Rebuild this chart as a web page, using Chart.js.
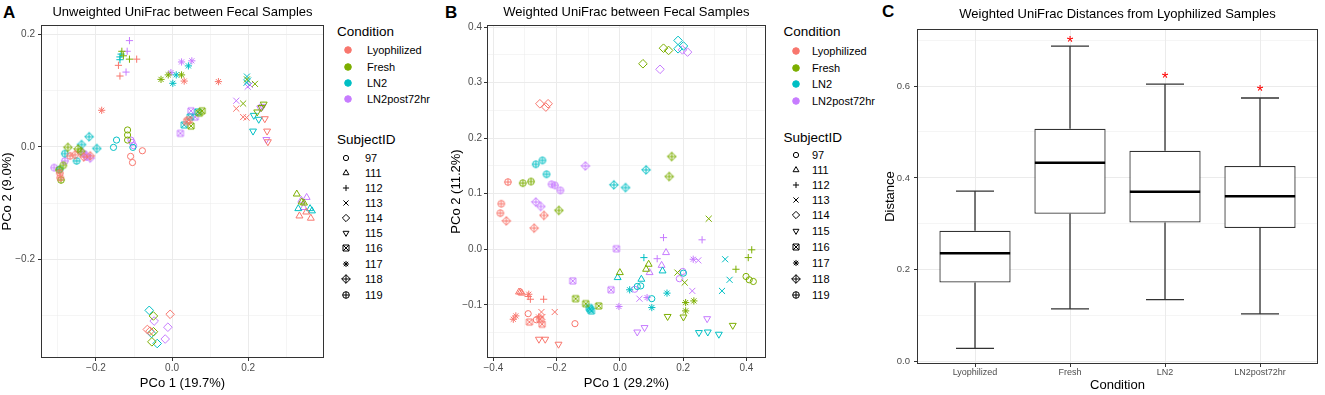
<!DOCTYPE html>
<html>
<head>
<meta charset="utf-8">
<script src="https://cdn.jsdelivr.net/npm/chart.js@4.4.0/dist/chart.umd.min.js"></script>
<style>
  body { margin: 0; width: 1325px; height: 395px; background: #fff; position: relative; overflow: hidden;
         font-family: "Liberation Sans", Arial, Helvetica, sans-serif; color: #000; }
  canvas { position: absolute; top: 0; }
  .tag { position: absolute; font-weight: bold; font-size: 17px; line-height: 17px; }
  .legTitle { position: absolute; font-size: 13.5px; line-height: 16px; white-space: nowrap; }
  .legItem { position: absolute; font-size: 11px; line-height: 14px; white-space: nowrap; }
  .legMark { position: absolute; }
</style>
</head>
<body>
<div class="tag" style="left:3px;top:4px">A</div>
<div class="tag" style="left:445px;top:4px">B</div>
<div class="tag" style="left:882px;top:3px">C</div>
<canvas id="chartA" width="330" height="395" style="left:0px"></canvas>
<canvas id="chartB" width="322" height="395" style="left:448px"></canvas>
<canvas id="chartC" width="445" height="395" style="left:880px"></canvas>
<script>
// conditions / subjects
const conditions = ['Lyophilized', 'Fresh', 'LN2', 'LN2post72hr'];
const conditionColors = ['#F8766D', '#7CAE00', '#00BFC4', '#C77CFF'];
const subjects = [97, 111, 112, 113, 114, 115, 116, 117, 118, 119];

// Panel A - unweighted UniFrac PCoA, rows are [subject, PCo1, PCo2]
const unwLyophilized = [
  [97, -0.109, -0.017], [97, -0.104, -0.028], [97, -0.078, -0.007],
  [111, 0.353, -0.116], [111, 0.335, -0.123], [111, 0.365, -0.127],
  [112, -0.093, 0.156], [112, -0.141, 0.145], [112, -0.137, 0.126],
  [113, 0.169, 0.068], [113, 0.187, 0.053], [113, 0.196, 0.052],
  [114, -0.005, -0.298], [114, -0.065, -0.325], [114, -0.058, -0.328],
  [115, 0.244, 0.050], [115, 0.250, 0.028], [115, 0.252, 0.009],
  [116, 0.039, 0.045], [116, 0.044, 0.048],
  [117, 0.032, 0.117], [117, 0.122, 0.116], [117, -0.185, 0.065],
  [118, -0.255, -0.014], [118, -0.232, -0.018], [118, -0.215, -0.016],
  [119, -0.268, -0.016], [119, -0.295, -0.047], [119, -0.294, -0.055]
];
const unwFresh = [
  [97, -0.117, 0.030], [97, -0.117, 0.021], [97, -0.117, 0.012],
  [111, 0.328, -0.084], [111, 0.341, -0.098], [111, 0.347, -0.100],
  [112, -0.132, 0.170], [112, -0.112, 0.156], [112, -0.128, 0.162],
  [113, 0.218, 0.112], [113, 0.187, 0.077], [113, 0.197, 0.120],
  [114, -0.049, -0.301], [114, -0.049, -0.329], [114, -0.053, -0.347],
  [115, 0.241, 0.076], [115, 0.224, 0.062], [115, 0.235, 0.070],
  [116, 0.050, 0.037], [116, 0.079, 0.064], [116, 0.072, 0.060],
  [117, -0.029, 0.120], [117, -0.010, 0.128], [117, 0.025, 0.128],
  [118, -0.274, -0.001], [118, -0.247, -0.004], [118, -0.240, -0.008],
  [119, -0.286, -0.033], [119, -0.297, -0.041], [119, -0.292, -0.059]
];
const unwLN2 = [
  [97, -0.154, -0.001], [97, -0.146, 0.012], [97, -0.103, -0.001],
  [111, 0.332, -0.110], [111, 0.363, -0.110], [111, 0.368, -0.114],
  [112, -0.137, 0.160], [112, -0.137, 0.155], [112, -0.134, 0.165],
  [113, 0.197, 0.125], [113, 0.196, 0.114], [113, 0.200, 0.118],
  [114, -0.060, -0.291], [114, -0.054, -0.332], [114, -0.039, -0.350],
  [115, 0.215, 0.056], [115, 0.228, 0.049], [115, 0.213, 0.028],
  [116, 0.032, 0.039], [116, 0.048, 0.053], [116, 0.068, 0.062],
  [117, 0.043, 0.144], [117, 0.011, 0.128], [117, 0.002, 0.113],
  [118, -0.238, 0.004], [118, -0.218, 0.018], [118, -0.198, -0.003],
  [119, -0.282, -0.012], [119, -0.251, -0.025], [119, -0.295, -0.040]
];
const unwLN2post72hr = [
  [97, -0.108, 0.012], [97, -0.101, 0.002], [97, -0.105, 0.008],
  [111, 0.354, -0.090], [111, 0.346, -0.108], [111, 0.340, -0.095],
  [112, -0.112, 0.189], [112, -0.118, 0.170], [112, -0.121, 0.133],
  [113, 0.199, 0.107], [113, 0.169, 0.082], [113, 0.205, 0.110],
  [114, -0.047, -0.310], [114, -0.011, -0.321], [114, -0.018, -0.342],
  [115, 0.232, 0.069], [115, 0.248, 0.013], [115, 0.238, 0.072],
  [116, 0.022, 0.024], [116, 0.050, 0.064], [116, 0.061, 0.053],
  [117, 0.025, 0.151], [117, 0.052, 0.153], [117, -0.003, 0.132],
  [118, -0.236, -0.010], [118, -0.215, -0.020], [118, -0.226, -0.015],
  [119, -0.282, -0.025], [119, -0.310, -0.037], [119, -0.224, -0.018]
];

// Panel B - weighted UniFrac PCoA
const wLyophilized = [
  [97, -0.290, -0.116], [97, -0.264, -0.127], [97, -0.142, -0.134],
  [111, -0.319, -0.077], [111, -0.314, -0.077], [111, -0.310, -0.079],
  [112, -0.283, -0.090], [112, -0.241, -0.090], [112, -0.290, -0.085],
  [113, -0.248, -0.113], [113, -0.206, -0.113], [113, -0.245, -0.122],
  [114, -0.253, 0.262], [114, -0.234, 0.256], [114, -0.227, 0.262],
  [115, -0.256, -0.162], [115, -0.236, -0.162], [115, -0.194, -0.171],
  [116, -0.286, -0.131], [116, -0.246, -0.135], [116, -0.252, -0.126],
  [117, -0.288, -0.081], [117, -0.329, -0.120], [117, -0.337, -0.126], [117, -0.257, -0.122],
  [118, -0.359, 0.051], [118, -0.240, 0.061], [118, -0.271, 0.038],
  [119, -0.354, 0.121], [119, -0.375, 0.082], [119, -0.378, 0.065]
];
const wFresh = [
  [97, 0.399, -0.049], [97, 0.409, -0.055], [97, 0.422, -0.058],
  [111, 0.091, -0.027], [111, 0.083, -0.036], [111, 0.000, -0.042],
  [112, 0.417, -0.001], [112, 0.406, -0.015], [112, 0.367, -0.036],
  [113, 0.281, 0.055], [113, 0.182, -0.042], [113, 0.205, -0.060],
  [114, 0.073, 0.334], [114, 0.138, 0.362], [114, 0.154, 0.358],
  [115, 0.151, -0.121], [115, 0.201, -0.122], [115, 0.357, -0.137],
  [116, -0.140, -0.089], [116, -0.108, -0.098], [116, -0.067, -0.102],
  [117, 0.208, -0.096], [117, 0.234, -0.093], [117, 0.208, -0.111],
  [118, 0.164, 0.167], [118, 0.156, 0.131], [118, -0.193, 0.070],
  [119, -0.307, 0.119], [119, -0.281, 0.122]
];
const wLN2 = [
  [97, 0.201, -0.043], [97, 0.055, -0.067], [97, 0.066, -0.066], [97, 0.101, -0.089],
  [111, 0.135, -0.039], [111, -0.007, -0.051], [111, 0.068, -0.054],
  [112, 0.076, -0.015],
  [113, 0.333, -0.018], [113, 0.347, -0.055], [113, 0.323, -0.075],
  [114, 0.184, 0.376], [114, 0.201, 0.366], [114, 0.184, 0.361],
  [115, 0.250, -0.150], [115, 0.278, -0.149], [115, 0.313, -0.153],
  [116, -0.097, -0.105], [116, -0.090, -0.111], [116, -0.094, -0.108],
  [117, 0.031, -0.073], [117, 0.149, -0.079], [117, 0.101, -0.105],
  [118, -0.019, 0.116], [118, 0.018, 0.111], [118, 0.083, 0.143],
  [119, -0.266, 0.153], [119, -0.245, 0.160], [119, -0.232, 0.135]
];
const wLN2post72hr = [
  [97, 0.188, -0.053], [97, 0.047, -0.072], [97, 0.199, -0.040],
  [111, 0.146, -0.006], [111, 0.132, -0.029], [111, 0.094, -0.042],
  [112, 0.138, 0.021], [112, 0.118, -0.017], [112, 0.260, 0.017],
  [113, 0.248, -0.020], [113, 0.229, -0.075], [113, 0.062, -0.089],
  [114, 0.127, 0.324], [114, 0.198, 0.359], [114, 0.214, 0.355],
  [115, 0.276, -0.125], [115, 0.078, -0.141], [115, 0.055, -0.149],
  [116, -0.011, 0.001], [116, -0.149, -0.057], [116, -0.028, -0.073],
  [117, 0.232, -0.018], [117, 0.086, -0.087], [117, -0.003, -0.103],
  [118, -0.109, 0.150], [118, -0.266, 0.085], [118, -0.250, 0.077],
  [119, -0.216, 0.117], [119, -0.205, 0.115], [119, -0.188, 0.106]
];

// axis ticks (major get a label, minor only a grid line)
const aXMajor = [-0.2, 0, 0.2], aXMinor = [-0.3, -0.1, 0.1, 0.3];
const aYMajor = [-0.2, 0, 0.2], aYMinor = [-0.3, -0.1, 0.1];
const bXMajor = [-0.4, -0.2, 0, 0.2, 0.4], bXMinor = [-0.3, -0.1, 0.1, 0.3];
const bYMajor = [-0.1, 0, 0.1, 0.2, 0.3, 0.4], bYMinor = [-0.15, -0.05, 0.05, 0.15, 0.25, 0.35];

// Panel C - boxplot stats per condition
const boxLow = [0.029, 0.115, 0.135, 0.104];
const boxQ1 = [0.172, 0.322, 0.303, 0.291];
const boxMedian = [0.236, 0.433, 0.370, 0.360];
const boxQ3 = [0.285, 0.507, 0.459, 0.426];
const boxHigh = [0.371, 0.687, 0.604, 0.574];
const starY = [null, 0.704, 0.625, 0.596];
const cYMajor = [0, 0.2, 0.4, 0.6], cYMinor = [0.1, 0.3, 0.5, 0.7];

const FONT = '"Liberation Sans", Arial, Helvetica, sans-serif';

// shapes per subject (ggplot shapes 1,2,3,4,5,6,7,8,9,10)
const builtinStyle = {97: 'circle', 111: 'triangle', 112: 'cross', 113: 'crossRot', 114: 'rectRot', 115: 'triangle', 117: 'star'};
const markRadius = {97: 3.1, 111: 4, 112: 3.6, 113: 4.3, 114: 4.3, 115: 4, 116: 4, 117: 3.6, 118: 4, 119: 4};

const markCache = {};
function customMark(kind, color) {
  const key = kind + color;
  if (markCache[key]) return markCache[key];
  const c = document.createElement('canvas');
  c.width = 12; c.height = 12;
  const g = c.getContext('2d');
  const m = 6;
  g.strokeStyle = color;
  g.lineWidth = 1;
  g.beginPath();
  if (kind === 116) {
    g.rect(m - 3, m - 3, 6, 6);
    g.moveTo(m - 3, m - 3); g.lineTo(m + 3, m + 3);
    g.moveTo(m + 3, m - 3); g.lineTo(m - 3, m + 3);
  } else if (kind === 118) {
    const r = 4.3;
    g.moveTo(m, m - r); g.lineTo(m + r, m); g.lineTo(m, m + r); g.lineTo(m - r, m); g.closePath();
    g.moveTo(m - r, m); g.lineTo(m + r, m);
    g.moveTo(m, m - r); g.lineTo(m, m + r);
  } else {
    const r = 3.3;
    g.arc(m, m, r, 0, Math.PI * 2);
    g.moveTo(m - r, m); g.lineTo(m + r, m);
    g.moveTo(m, m - r); g.lineTo(m, m + r);
  }
  g.stroke();
  markCache[key] = c;
  return c;
}

function markFor(s, color) {
  if (builtinStyle[s]) return builtinStyle[s];
  if (s === 116 || s === 118 || s === 119) return customMark(s, color);
  return 'circle';
}

function scatterSets(rowsByCondition) {
  return rowsByCondition.map((rows, i) => ({
    label: conditions[i],
    data: rows.map(([s, x, y]) => ({x, y, s})),
    showLine: false,
    pointBorderColor: conditionColors[i],
    pointBackgroundColor: 'rgba(0,0,0,0)',
    pointBorderWidth: 1,
    pointStyle: ctx => markFor(ctx.raw ? ctx.raw.s : 97, conditionColors[i]),
    pointRadius: ctx => markRadius[ctx.raw ? ctx.raw.s : 97],
    pointRotation: ctx => (ctx.raw && ctx.raw.s === 115) ? 180 : 0
  }));
}

function fmt(v) {
  return v.toFixed(1).replace('-', '\u2212');
}

function valueAxis(min, max, major, minor, o) {
  const all = major.concat(minor).sort((a, b) => a - b);
  const isMajor = v => major.some(m => Math.abs(m - v) < 1e-9);
  return {
    type: 'linear',
    position: o.position,
    min: min, max: max,
    offset: false,
    afterBuildTicks: s => { s.ticks = all.map(v => ({value: v})); },
    afterFit: s => { if (o.position === 'left') s.width = o.size; else s.height = o.size; },
    ticks: {
      autoSkip: false, maxRotation: 0, padding: o.tickPad,
      color: '#4D4D4D', font: {family: FONT, size: o.tickSize || 10},
      callback: v => isMajor(v) ? (o.labels ? o.labels(v) : fmt(v)) : ''
    },
    grid: {
      offset: false,
      color: '#EBEBEB',
      lineWidth: c => (c.tick && isMajor(c.tick.value)) ? 1 : 0.5,
      tickLength: 4,
      tickWidth: 1,
      tickColor: c => (c.tick && isMajor(c.tick.value)) ? '#333333' : 'rgba(0,0,0,0)'
    },
    border: {display: false},
    title: {
      display: true, text: o.title, color: '#000',
      font: {family: FONT, size: 13},
      padding: o.position === 'left' ? {top: o.titlePad, bottom: 0} : {top: 0, bottom: o.titlePad}
    }
  };
}

const panelFrame = {
  id: 'panelFrame',
  afterDraw(chart) {
    const {ctx, chartArea: a} = chart;
    ctx.save();
    ctx.strokeStyle = '#333333';
    ctx.lineWidth = 1;
    ctx.strokeRect(Math.round(a.left) - 0.5, Math.round(a.top) - 0.5,
                   Math.round(a.right - a.left) + 1, Math.round(a.bottom - a.top) + 1);
    ctx.restore();
  }
};

function titleOpts(text, padTop, padBottom) {
  return {
    display: true, text: text, color: '#000', fullSize: false,
    font: {family: FONT, size: 13, weight: 'normal'},
    padding: {top: padTop, bottom: padBottom}
  };
}

function pcoaChart(id, sets, title, xr, yr, xTicks, yTicks, xTitle, yTitle, yWidth, yTitlePad, yTickPad, padRight) {
  return new Chart(document.getElementById(id), {
    type: 'scatter',
    data: {datasets: scatterSets(sets)},
    options: {
      responsive: false, animation: false, devicePixelRatio: 1,
      layout: {padding: {left: 0, right: padRight, top: 0, bottom: 0}},
      plugins: {legend: {display: false}, tooltip: {enabled: false}, title: titleOpts(title, 5, 5.4)},
      scales: {
        x: valueAxis(xr[0], xr[1], xTicks[0], xTicks[1], {position: 'bottom', size: 38, tickPad: 1, title: xTitle, titlePad: 4}),
        y: valueAxis(yr[0], yr[1], yTicks[0], yTicks[1], {position: 'left', size: yWidth, tickPad: yTickPad, title: yTitle, titlePad: yTitlePad})
      }
    },
    plugins: [panelFrame]
  });
}

pcoaChart('chartA', [unwLyophilized, unwFresh, unwLN2, unwLN2post72hr],
  'Unweighted UniFrac between Fecal Samples', [-0.342, 0.397], [-0.374, 0.215],
  [aXMajor, aXMinor], [aYMajor, aYMinor], 'PCo 1 (19.7%)', 'PCo 2 (9.0%)', 42, 0, 3, 7);

pcoaChart('chartB', [wLyophilized, wFresh, wLN2, wLN2post72hr],
  'Weighted UniFrac between Fecal Samples', [-0.417, 0.458], [-0.194, 0.402],
  [bXMajor, bXMinor], [bYMajor, bYMinor], 'PCo 1 (29.2%)', 'PCo 2 (11.2%)', 40, 1, 2, 2);

// Panel C boxplot: boxes are floating bars, whiskers/medians/stars drawn through the scales
const boxExtras = {
  id: 'boxExtras',
  beforeDatasetsDraw(chart) {
    const {ctx, scales: {x, y}} = chart;
    ctx.save();
    ctx.strokeStyle = '#333333';
    ctx.lineWidth = 1.3;
    conditions.forEach((c, i) => {
      const cx = Math.round(x.getPixelForValue(i + 1));
      const capL = x.getPixelForValue(i + 0.8), capR = x.getPixelForValue(i + 1.2);
      ctx.beginPath();
      ctx.moveTo(cx, y.getPixelForValue(boxHigh[i])); ctx.lineTo(cx, y.getPixelForValue(boxQ3[i]));
      ctx.moveTo(cx, y.getPixelForValue(boxQ1[i])); ctx.lineTo(cx, y.getPixelForValue(boxLow[i]));
      ctx.moveTo(capL, y.getPixelForValue(boxHigh[i])); ctx.lineTo(capR, y.getPixelForValue(boxHigh[i]));
      ctx.moveTo(capL, y.getPixelForValue(boxLow[i])); ctx.lineTo(capR, y.getPixelForValue(boxLow[i]));
      ctx.stroke();
    });
    ctx.restore();
  },
  afterDatasetsDraw(chart) {
    const {ctx, scales: {x, y}} = chart;
    const bars = chart.getDatasetMeta(0).data;
    ctx.save();
    ctx.strokeStyle = '#000';
    ctx.lineWidth = 2.6;
    conditions.forEach((c, i) => {
      const b = bars[i];
      const my = y.getPixelForValue(boxMedian[i]);
      ctx.beginPath();
      ctx.moveTo(b.x - b.width / 2 + 0.5, my); ctx.lineTo(b.x + b.width / 2 - 0.5, my);
      ctx.stroke();
    });
    ctx.fillStyle = '#FF0000';
    ctx.font = '17px ' + FONT;
    ctx.textAlign = 'center';
    ctx.textBaseline = 'alphabetic';
    starY.forEach((v, i) => {
      if (v === null) return;
      ctx.fillText('*', x.getPixelForValue(i + 1), y.getPixelForValue(v) + 9.5);
    });
    ctx.restore();
  }
};

const cXAxis = valueAxis(0.4, 4.6, [1, 2, 3, 4], [], {
  position: 'bottom', size: 32, tickPad: 0, tickSize: 9, title: 'Condition', titlePad: 2,
  labels: v => conditions[Math.round(v) - 1]
});
cXAxis.title.font.size = 13;
const cYAxis = valueAxis(-0.003, 0.722, cYMajor, cYMinor, {position: 'left', size: 38, tickPad: 4, tickSize: 9.5, title: 'Distance', titlePad: 3});

new Chart(document.getElementById('chartC'), {
  type: 'bar',
  data: {
    datasets: [{
      label: 'Distance',
      data: conditions.map((c, i) => ({x: i + 1, y: [boxQ1[i], boxQ3[i]]})),
      backgroundColor: '#FFFFFF',
      borderColor: '#333333',
      borderWidth: 1.3,
      borderSkipped: false,
      categoryPercentage: 1,
      barPercentage: 0.75
    }]
  },
  options: {
    responsive: false, animation: false, devicePixelRatio: 1,
    layout: {padding: {left: 0, right: 8, top: 0, bottom: 0}},
    plugins: {legend: {display: false}, tooltip: {enabled: false},
              title: titleOpts('Weighted UniFrac Distances from Lyophilized Samples', 7, 7.4)},
    scales: {x: cXAxis, y: cYAxis}
  },
  plugins: [boxExtras, panelFrame]
});

// ggplot-style legends (HTML text, markers drawn with Chart.js point helper)
function legendMark(left, cy, style, color, radius, rotation, filled) {
  const c = document.createElement('canvas');
  c.className = 'legMark';
  c.width = 14; c.height = 14;
  c.style.left = (left - 7) + 'px';
  c.style.top = (cy - 7) + 'px';
  const g = c.getContext('2d');
  g.strokeStyle = color;
  g.fillStyle = filled ? color : 'rgba(0,0,0,0)';
  Chart.helpers.drawPoint(g, {pointStyle: style, rotation: rotation, radius: radius, borderWidth: 1}, 7, 7);
  document.body.appendChild(c);
}
function legendText(cls, left, cy, text, lineH) {
  const d = document.createElement('div');
  d.className = cls;
  d.style.left = left + 'px';
  d.style.top = (cy - lineH / 2) + 'px';
  d.textContent = text;
  document.body.appendChild(d);
}
function buildLegend(p) {
  legendText('legTitle', p.titleX, p.condTitleY, 'Condition', 16);
  conditions.forEach((c, i) => {
    legendMark(p.condMarkX, p.condY[i], 'circle', conditionColors[i], 3.3, 0, true);
    legendText('legItem', p.condTextX, p.condY[i], c, 14);
  });
  legendText('legTitle', p.titleX, p.subjTitleY, 'SubjectID', 16);
  subjects.forEach((s, i) => {
    const style = markFor(s, '#000');
    legendMark(p.subjMarkX, p.subjY[i], style, '#000', markRadius[s] * 0.85, s === 115 ? 180 : 0, false);
    legendText('legItem', p.subjTextX, p.subjY[i], String(s), 14);
  });
}
buildLegend({
  titleX: 337, condTitleY: 32, condMarkX: 348, condTextX: 367, condY: [50, 66.7, 82.7, 99],
  subjTitleY: 140, subjMarkX: 346, subjTextX: 365,
  subjY: [158, 173, 188, 202.5, 217.5, 232.5, 248, 263.5, 279, 294.5]
});
buildLegend({
  titleX: 783.5, condTitleY: 32.3, condMarkX: 796, condTextX: 812, condY: [51, 67.7, 84, 100.7],
  subjTitleY: 137.7, subjMarkX: 796, subjTextX: 812,
  subjY: [155, 170, 185, 200, 215, 230.7, 247.3, 263.3, 279.3, 295.3]
});
</script>
</body>
</html>
